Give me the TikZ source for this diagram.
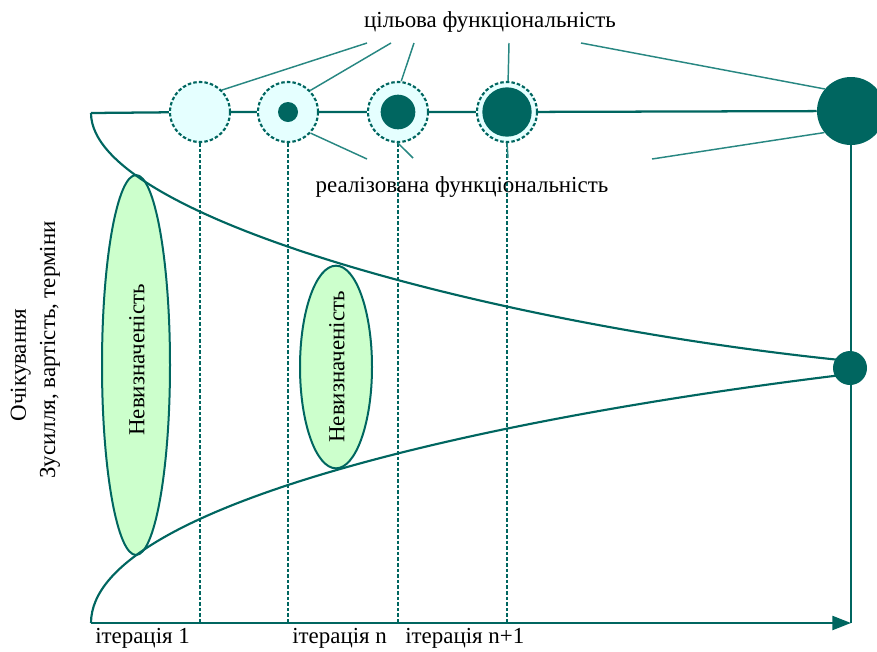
\documentclass[tikz,border=0pt]{standalone}
\usepackage{fontspec}
\setmainfont{Liberation Serif}
\usetikzlibrary{shapes.geometric,arrows.meta}
\definecolor{tealD}{RGB}{0,102,96}
\definecolor{tealM}{RGB}{40,135,130}
\definecolor{cyanL}{RGB}{229,255,255}
\definecolor{greenL}{RGB}{204,255,204}
\begin{document}
\begin{tikzpicture}[x=0.75pt,y=-0.75pt,
  main/.style={draw=tealD, line width=1.7pt},
  guide/.style={draw=tealD, line width=1.6pt, dash pattern=on 2.6pt off 1.6pt},
  tgt/.style={circle, draw=tealD, line width=1.6pt, dash pattern=on 2.6pt off 1.6pt, fill=cyanL, minimum size=45pt, inner sep=0pt},
  dot/.style={circle, fill=tealD, inner sep=0pt},
  lbl/.style={draw=tealM, line width=1.1pt},
  txt/.style={font=\fontsize{17.2}{20}\selectfont, inner sep=0pt},
  unc/.style={ellipse, draw=tealD, line width=1.5pt, fill=greenL, inner sep=0pt}]
\useasboundingbox (0,0) rectangle (877,651);

% key points
\coordinate (tl) at (91,113);
\coordinate (ax0) at (91,623);
\coordinate (ax2) at (851,623);

% circles on the top line
\node[tgt] (c1) at (200,112) {};
\node[tgt] (c2) at (288,112) {};
\node[tgt] (c3) at (398,112) {};
\node[tgt] (c4) at (507,112) {};
\node[dot, minimum size=15pt] (d2) at (c2) {};
\node[dot, minimum size=26pt] (d3) at (c3) {};
\node[dot, minimum size=37pt] (d4) at (c4) {};
\node[dot, minimum size=51pt] (big) at (851,111) {};

% iteration guides
\foreach \c in {c1,c2,c3,c4}
  \draw[guide] (\c.south) -- (\c.south |- ax0);

% top line
\draw[main] (tl) -- (c1) -- (c2) -- (c3) -- (c4) -- (big);

% uncertainty ellipses
\node[unc, minimum width=51pt, minimum height=285pt] (e1) at (136,365) {};
\node[unc, minimum width=54pt, minimum height=152pt] (e2) at (336,367) {};
\node[txt, rotate=90] (e1t) at (137,360) {Невизначеність};
\node[txt, rotate=90] (e2t) at (337,367) {Невизначеність};

% cone of uncertainty
\coordinate (smc) at (850,368);
\draw[main, line width=1.6pt] (tl) .. controls (91,218) and (500,326) .. (850,361);
\draw[main, line width=1.6pt] (ax0) .. controls (91,503) and (500,416) .. (850,374);

\node[dot, minimum size=25.5pt] (sm) at (smc) {};

% right edge and axis
\draw[main] (big) -- (ax2);
\draw[main, -{Triangle[length=14pt,width=10.5pt]}] (ax0) -- (ax2);

% labels: target functionality
\node[txt, anchor=base] (tgtl) at (490,27) {цільова функціональність};
\coordinate (t1) at (367,43);
\coordinate (t2) at (391,43);
\coordinate (t3) at (414,43);
\coordinate (t4) at (509,43);
\coordinate (t5) at (581,43);
\draw[lbl] (t1) -- (c1.45);
\draw[lbl] (t2) -- (c2.44);
\draw[lbl] (t3) -- (c3.84);
\draw[lbl] (t4) -- (c4.88);
\draw[lbl] (t5) -- (big.140);

% labels: realised functionality
\node[txt, anchor=base] (rell) at (462,192) {реалізована функціональність};
\coordinate (r2) at (367,159);
\coordinate (r3) at (413,158);
\coordinate (r4) at (508,158);
\coordinate (r5) at (652,159);
\draw[lbl] (c2.-43) -- (r2);
\draw[lbl] (c3.-90) -- (r3);
\draw[lbl] (c4.-90) -- (r4);
\draw[lbl] (big.219) -- (r5);

% axis labels
\node[txt, anchor=base west] (i1) at (95,643) {ітерація 1};
\node[txt, anchor=base west] (in) at (292,643) {ітерація n};
\node[txt, anchor=base west] (in1) at (405,643) {ітерація n+1};

\node[txt, rotate=90, anchor=base] (yl1) at (26,365) {Очікування};
\node[txt, rotate=90, anchor=base] (yl2) at (55,350) {Зусилля, вартість, терміни};
\end{tikzpicture}
\end{document}
